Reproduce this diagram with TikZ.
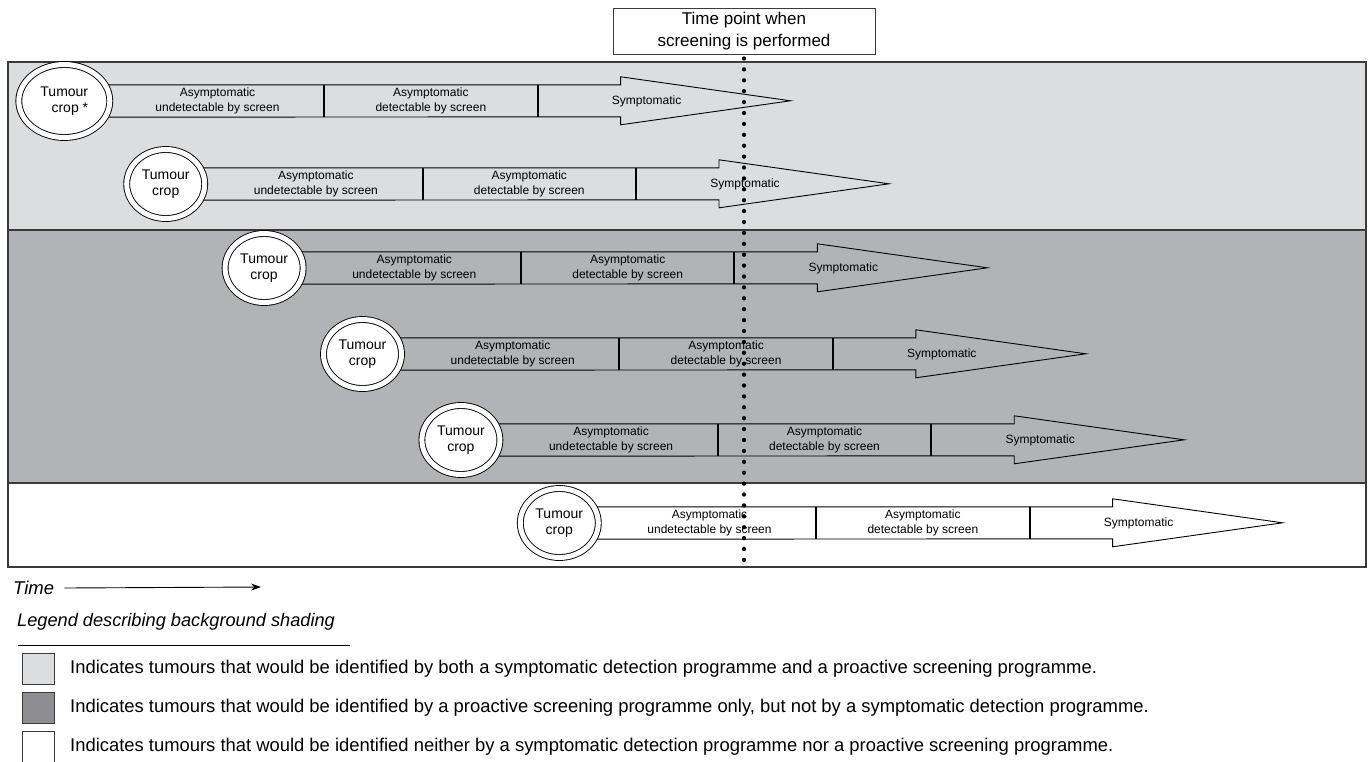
\documentclass[tikz,border=0pt]{standalone}
\usepackage{fontspec}
\setmainfont{Liberation Sans}
\usetikzlibrary{positioning,shapes.geometric,arrows.meta}

\definecolor{lightshade}{HTML}{DCDDDF}
\definecolor{darkshade}{HTML}{B2B3B7}
\definecolor{keyshade}{HTML}{8E8E92}
\definecolor{frameline}{HTML}{3A3A3A}

\begin{document}
\begin{tikzpicture}[x=1pt,y=-1pt,>={Stealth[length=10pt,width=7pt]},
    seg/.style={minimum width=213pt,minimum height=32pt,inner sep=0pt,align=center,font=\fontsize{12}{14.5}\selectfont},
    crop/.style={ellipse,draw,double,double distance=5pt,line width=0.9pt,fill=white,minimum width=78pt,minimum height=69pt,inner sep=0pt,outer sep=0pt,align=center,font=\fontsize{14}{15.5}\selectfont},
    body/.style={draw,line width=0.9pt,line join=miter},
    divider/.style={line width=2pt},
    symp/.style={font=\fontsize{12}{14.5}\selectfont},
    band/.style={draw=frameline,line width=1.5pt},
    dotline/.style={line width=4.3pt,line cap=round,dash pattern=on 0pt off 10.9pt},
    key/.style={draw=frameline,line width=1pt,minimum width=32pt,minimum height=31pt,inner sep=0pt},
    keytext/.style={anchor=west,inner sep=0pt,font=\fontsize{18.4}{21}\selectfont}]

    \useasboundingbox (0,0) rectangle (1368,761);

    % background shading
    \draw[band, fill=lightshade] (8,62) rectangle (1366,230);
    \draw[band, fill=darkshade] (8,230) rectangle (1366,483);
    \draw[band, fill=white] (8,483) rectangle (1366,567);

    % row 1
    \node[seg] (u1) at (217.5,101) {Asymptomatic\\undetectable by screen};
    \node[seg, right=0pt of u1] (d1) {Asymptomatic\\detectable by screen};
    \draw[body] ([xshift=-20pt]u1.north west) -- ([xshift=83pt]d1.north east) -- ++(0,-8) -- ++(170,24) -- ++(-170,24) -- ++(0,-8) -- ([xshift=-20pt]u1.south west);
    \draw[divider] (u1.north east) -- (u1.south east) (d1.north east) -- (d1.south east);
    \node[symp] (s1) at ([xshift=109pt]d1.east) {Symptomatic};
    \node[crop, minimum width=91pt, minimum height=73pt, align=right, left=1pt of u1] (c1) {Tumour\\crop *};

    % row 2
    \node[seg] (u2) at (315.9,184) {Asymptomatic\\undetectable by screen};
    \node[seg, right=0pt of u2] (d2) {Asymptomatic\\detectable by screen};
    \draw[body] ([xshift=-20pt]u2.north west) -- ([xshift=83pt]d2.north east) -- ++(0,-8) -- ++(170,24) -- ++(-170,24) -- ++(0,-8) -- ([xshift=-20pt]u2.south west);
    \draw[divider] (u2.north east) -- (u2.south east) (d2.north east) -- (d2.south east);
    \node[symp] (s2) at ([xshift=109pt]d2.east) {Symptomatic};
    \node[crop, left=4.5pt of u2] (c2) {Tumour\\crop};

    % row 3
    \node[seg] (u3) at (414.3,268) {Asymptomatic\\undetectable by screen};
    \node[seg, right=0pt of u3] (d3) {Asymptomatic\\detectable by screen};
    \draw[body] ([xshift=-20pt]u3.north west) -- ([xshift=83pt]d3.north east) -- ++(0,-8) -- ++(170,24) -- ++(-170,24) -- ++(0,-8) -- ([xshift=-20pt]u3.south west);
    \draw[divider] (u3.north east) -- (u3.south east) (d3.north east) -- (d3.south east);
    \node[symp] (s3) at ([xshift=109pt]d3.east) {Symptomatic};
    \node[crop, left=4.5pt of u3] (c3) {Tumour\\crop};

    % row 4
    \node[seg] (u4) at (512.7,354) {Asymptomatic\\undetectable by screen};
    \node[seg, right=0pt of u4] (d4) {Asymptomatic\\detectable by screen};
    \draw[body] ([xshift=-20pt]u4.north west) -- ([xshift=83pt]d4.north east) -- ++(0,-8) -- ++(170,24) -- ++(-170,24) -- ++(0,-8) -- ([xshift=-20pt]u4.south west);
    \draw[divider] (u4.north east) -- (u4.south east) (d4.north east) -- (d4.south east);
    \node[symp] (s4) at ([xshift=109pt]d4.east) {Symptomatic};
    \node[crop, left=4.5pt of u4] (c4) {Tumour\\crop};

    % row 5
    \node[seg] (u5) at (611.1,440) {Asymptomatic\\undetectable by screen};
    \node[seg, right=0pt of u5] (d5) {Asymptomatic\\detectable by screen};
    \draw[body] ([xshift=-20pt]u5.north west) -- ([xshift=83pt]d5.north east) -- ++(0,-8) -- ++(170,24) -- ++(-170,24) -- ++(0,-8) -- ([xshift=-20pt]u5.south west);
    \draw[divider] (u5.north east) -- (u5.south east) (d5.north east) -- (d5.south east);
    \node[symp] (s5) at ([xshift=109pt]d5.east) {Symptomatic};
    \node[crop, left=4.5pt of u5] (c5) {Tumour\\crop};

    % row 6
    \node[seg] (u6) at (709.5,523) {Asymptomatic\\undetectable by screen};
    \node[seg, right=0pt of u6] (d6) {Asymptomatic\\detectable by screen};
    \draw[body] ([xshift=-20pt]u6.north west) -- ([xshift=83pt]d6.north east) -- ++(0,-8) -- ++(170,24) -- ++(-170,24) -- ++(0,-8) -- ([xshift=-20pt]u6.south west);
    \draw[divider] (u6.north east) -- (u6.south east) (d6.north east) -- (d6.south east);
    \node[symp] (s6) at ([xshift=109pt]d6.east) {Symptomatic};
    \node[crop, left=4.5pt of u6] (c6) {Tumour\\crop};

    % screening time point
    \node[draw=frameline, line width=1pt, fill=white, minimum width=262pt, minimum height=46pt, inner sep=0pt, align=center, font=\fontsize{17}{22}\selectfont] (tp) at (744,31) {Time point when\\screening is performed};
    \coordinate (scrbot) at (744,565);
    \draw[dotline] ([yshift=-4pt]tp.south) -- (scrbot);

    % time axis
    \node[anchor=west, inner sep=0pt, font=\fontsize{18.5}{22}\selectfont\itshape] (time) at (13,588) {Time};
    \coordinate (timeend) at (261,587);
    \draw[->, line width=0.9pt] ([xshift=10pt]time.east) -- (timeend);

    % legend
    \node[anchor=west, inner sep=0pt, font=\fontsize{18.2}{21}\selectfont\itshape] (leghead) at (17,622) {Legend describing background shading};
    \draw[line width=0.9pt] (18,645) -- (350,645);
    \node[key, fill=lightshade] (k1) at (38.5,668.5) {};
    \node[key, fill=keyshade, below=7pt of k1] (k2) {};
    \node[key, fill=white, below=7pt of k2] (k3) {};
    \node[keytext, right=15pt of k1] (t1) {Indicates tumours that would be identified by both a symptomatic detection programme and a proactive screening programme.};
    \node[keytext, right=15pt of k2] (t2) {Indicates tumours that would be identified by a proactive screening programme only, but not by a symptomatic detection programme.};
    \node[keytext, right=15pt of k3] (t3) {Indicates tumours that would be identified neither by a symptomatic detection programme nor a proactive screening programme.};
\end{tikzpicture}
\end{document}
